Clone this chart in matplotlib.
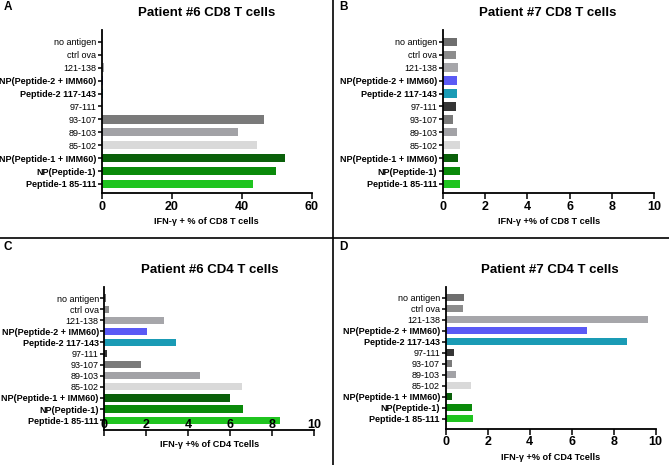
import matplotlib.pyplot as plt
import numpy as np

plt.rcParams['font.family'] = ['Liberation Sans', 'DejaVu Sans']

categories = ['Peptide-1 85-111', 'NP(Peptide-1)', 'NP(Peptide-1 + IMM60)',
              '85-102', '89-103', '93-107', '97-111', 'Peptide-2 117-143',
              'NP(Peptide-2 + IMM60)', '121-138', 'ctrl ova', 'no antigen']
bold_labels = ['Peptide-1 85-111', 'NP(Peptide-1)', 'NP(Peptide-1 + IMM60)',
               'Peptide-2 117-143', 'NP(Peptide-2 + IMM60)']
colors = ['#1fc41f', '#0a8a0a', '#0a600a', '#d9d9d9', '#a2a2a6', '#7a7a7a',
          '#353535', '#1a9bb5', '#5a5af5', '#a6a6aa', '#8c8c8c', '#6e6e6e']

p6_cd8 = [43.2, 49.9, 52.4, 44.4, 38.8, 46.5, 0.2, 0.4, 0.5, 0.6, 0.1, 0.1]
p7_cd8 = [0.8, 0.82, 0.7, 0.8, 0.66, 0.5, 0.6, 0.66, 0.66, 0.7, 0.6, 0.66]
p6_cd4 = [8.37, 6.62, 5.98, 6.59, 4.56, 1.76, 0.14, 3.44, 2.06, 2.83, 0.24, 0.1]
p7_cd4 = [1.32, 1.25, 0.32, 1.2, 0.52, 0.33, 0.41, 8.65, 6.72, 9.65, 0.81, 0.86]

fig = plt.figure(figsize=(6.69, 4.65), dpi=100)


def draw_panel(rect, values, xmax, xstep, title, xlabel, title_xy, ylim, labels_above=False):
    ax = fig.add_axes(rect)
    y = np.arange(len(categories))
    ax.barh(y, values, height=0.65, color=colors)
    ax.set_xlim(0, xmax)
    ax.set_ylim(*ylim)
    ax.set_xticks(np.arange(0, xmax + 0.01, xstep))
    ax.set_yticks(y)
    ax.set_yticklabels(categories)
    for lab in ax.get_yticklabels():
        if lab.get_text() in bold_labels:
            lab.set_fontweight('bold')
        lab.set_fontsize(6.5)
    for s in ['top', 'right']:
        ax.spines[s].set_visible(False)
    for s in ['left', 'bottom']:
        ax.spines[s].set_linewidth(1.3)
    ax.tick_params(axis='y', length=3, width=1.1, pad=1)
    if labels_above:
        ax.tick_params(axis='x', length=4, width=1.1, labelsize=9, pad=-12)
    else:
        ax.tick_params(axis='x', length=4, width=1.1, labelsize=9, pad=1.5)
    for lab in ax.get_xticklabels():
        lab.set_fontweight('bold')
    ax.set_xlabel(xlabel, fontsize=6.6, fontweight='bold', labelpad=3)
    fig.text(title_xy[0] / 669, 1 - title_xy[1] / 465, title, ha='center', va='center',
             fontsize=9.5, fontweight='bold')
    return ax


draw_panel([0.152, 0.585, 0.314, 0.35], p6_cd8, 60, 20, 'Patient #6 CD8 T cells',
           'IFN-γ + % of CD8 T cells', (207, 13), (-0.7, 11.9))
draw_panel([0.662, 0.585, 0.316, 0.35], p7_cd8, 10, 2, 'Patient #7 CD8 T cells',
           'IFN-γ +% of CD8 T cells', (548, 13), (-0.7, 11.9))
draw_panel([0.156, 0.075, 0.313, 0.308], p6_cd4, 10, 2, 'Patient #6 CD4 T cells',
           'IFN-γ +% of CD4 Tcells', (210, 270), (-0.9, 12.0), labels_above=True)
draw_panel([0.666, 0.078, 0.314, 0.305], p7_cd4, 10, 2, 'Patient #7 CD4 T cells',
           'IFN-γ +% of CD4 Tcells', (550, 270), (-0.9, 12.0))

# panel separators
fig.add_artist(plt.Line2D([333 / 669, 333 / 669], [0, 1], color='black', lw=1.2,
                          transform=fig.transFigure))
fig.add_artist(plt.Line2D([0, 1], [1 - 238 / 465, 1 - 238 / 465], color='black', lw=1.2,
                          transform=fig.transFigure))

for lbl, x, y in [('A', 4, 7), ('B', 339, 7), ('C', 4, 247), ('D', 339, 247)]:
    fig.text(x / 669, 1 - y / 465, lbl, fontsize=8.5, fontweight='bold', va='center')

fig.savefig('out.png', dpi=100)
